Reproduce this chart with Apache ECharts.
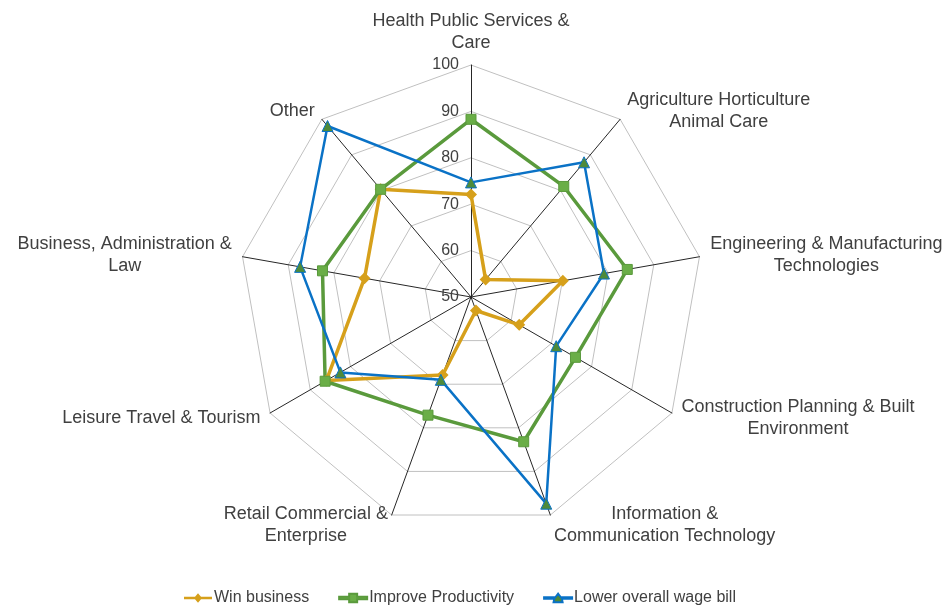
<!DOCTYPE html>
<html>
<head>
<meta charset="utf-8">
<script src="https://cdn.jsdelivr.net/npm/echarts@6/dist/echarts.min.js"></script>
<style>
  html, body { margin: 0; padding: 0; background: #fff; }
  #chart { width: 952px; height: 605px; }
</style>
</head>
<body>
<div id="chart"></div>
<script>
// indicators, clockwise from the top
const indicators = [
  "Health Public Services &\nCare",
  "Agriculture Horticulture\nAnimal Care",
  "Engineering & Manufacturing\nTechnologies",
  "Construction Planning & Built\nEnvironment",
  "Information &\nCommunication Technology",
  "Retail Commercial &\nEnterprise",
  "Leisure Travel & Tourism",
  "Business, Administration &\nLaw",
  "Other"
];
const seriesNames = ["Win business", "Improve Productivity", "Lower overall wage bill"];
const winBusiness = [72.1, 54.9, 70.1, 62.0, 53.1, 67.9, 86.0, 73.3, 80.3];
const improveProductivity = [88.3, 81.1, 84.2, 76.0, 83.2, 77.1, 86.3, 82.5, 80.3];
const lowerWageBill = [74.7, 87.9, 79.1, 71.2, 97.4, 69.0, 82.5, 87.4, 98.1];

// radar goes counter-clockwise, so keep the first item on top and reverse the rest
function clockwise(arr) {
  return [arr[0]].concat(arr.slice(1).reverse());
}

const chart = echarts.init(document.getElementById("chart"));

const font = "'Liberation Sans', Arial, sans-serif";

// legend icons: a line with the marker in the middle
const iconDiamond = "path://M0,4 L11,4 L14,0.5 L17,4 L28,4 L28,6.5 L17,6.5 L14,10 L11,6.5 L0,6.5 Z";
const iconSquare = "path://M0,4 L10,4 L10,1 L18,1 L18,4 L28,4 L28,6.5 L18,6.5 L18,9.5 L10,9.5 L10,6.5 L0,6.5 Z";
const iconTriangle = "path://M0,4.5 L11.3,4.5 L14,1 L16.7,4.5 L28,4.5 L28,6 L17.8,6 L18.5,9.5 L9.5,9.5 L10.2,6 L0,6 Z";

const option = {
  animation: false,
  textStyle: { fontFamily: font },
  legend: {
    top: 585,
    left: 179,
    itemGap: 29,
    itemWidth: 28,
    itemHeight: 10,
    textStyle: { fontSize: 16, color: "#404040", fontFamily: font, padding: [0, 0, 0, -3] },
    data: [
      { name: seriesNames[0], icon: iconDiamond },
      { name: seriesNames[1], icon: iconSquare },
      { name: seriesNames[2], icon: iconTriangle }
    ]
  },
  radar: {
    center: [471, 297],
    radius: 232,
    startAngle: 90,
    shape: "polygon",
    splitNumber: 5,
    nameGap: 11,
    axisName: {
      color: "#404040",
      fontSize: 18,
      fontFamily: font,
      lineHeight: 22,
      formatter: function (name) {
        return name.split("\n").map(function (l) { return "{c|" + l + "}"; }).join("\n");
      },
      rich: {
        c: { align: "center", fontSize: 18, color: "#404040", lineHeight: 22, fontFamily: font }
      }
    },
    axisLine: { lineStyle: { color: "#262626", width: 1 } },
    splitLine: { lineStyle: { color: "#c0c0c0", width: 1 } },
    splitArea: { show: false },
    axisTick: { show: false },
    axisLabel: { show: false },
    indicator: clockwise(indicators).map(function (n, i) {
      const ind = { name: n, min: 50, max: 100 };
      if (i === 0) {
        ind.axisLabel = {
          show: true,
          color: "#404040",
          fontSize: 16,
          fontFamily: font,
          margin: 12
        };
      }
      return ind;
    })
  },
  series: [{
    type: "radar",
    data: [
      {
        name: seriesNames[0],
        value: clockwise(winBusiness),
        symbol: "diamond",
        symbolSize: 12,
        lineStyle: { color: "#D6A01B", width: 3.5 },
        itemStyle: { color: "#D6A01B" }
      },
      {
        name: seriesNames[1],
        value: clockwise(improveProductivity),
        symbol: "rect",
        symbolSize: 10,
        lineStyle: { color: "#5A9A3C", width: 3.5 },
        itemStyle: { color: "#6AAE47", borderColor: "#5A9A3C", borderWidth: 1 }
      },
      {
        name: seriesNames[2],
        value: clockwise(lowerWageBill),
        symbol: "triangle",
        symbolSize: 11,
        lineStyle: { color: "#0A72C6", width: 2.5 },
        itemStyle: { color: "#4E8A3A", borderColor: "#0A72C6", borderWidth: 1 }
      }
    ]
  }]
};

chart.setOption(option);
</script>
</body>
</html>
